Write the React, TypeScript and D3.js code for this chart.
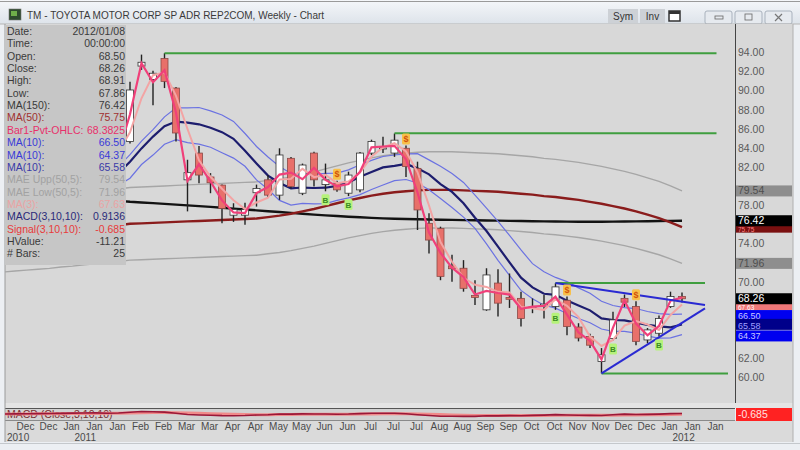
import React from "react";
import * as d3 from "d3";

// ---------- DATA ----------
const weeks = [
  "2010-11-21","2010-11-28","2010-12-05","2010-12-12","2010-12-19","2010-12-26",
  "2011-01-02","2011-01-09","2011-01-16","2011-01-23","2011-01-30",
  "2011-02-06","2011-02-13","2011-02-20","2011-02-27","2011-03-06","2011-03-13","2011-03-20","2011-03-27",
  "2011-04-03","2011-04-10","2011-04-17","2011-04-24","2011-05-01","2011-05-08","2011-05-15","2011-05-22","2011-05-29",
  "2011-06-05","2011-06-12","2011-06-19","2011-06-26","2011-07-03","2011-07-10","2011-07-17","2011-07-24","2011-07-31",
  "2011-08-07","2011-08-14","2011-08-21","2011-08-28","2011-09-04","2011-09-11","2011-09-18","2011-09-25",
  "2011-10-02","2011-10-09","2011-10-16","2011-10-23","2011-10-30","2011-11-06","2011-11-13","2011-11-20","2011-11-27",
  "2011-12-04","2011-12-11","2011-12-18","2011-12-25","2012-01-01","2012-01-08"
];
const openP = [76.9,77.5,78.2,79.0,79.5,80.2,80.7,82.5,83.0,84.0,82.3,
  84.7,92.6,91.2,93.4,90.3,80.7,83.5,81.0,80.15,77.0,77.0,79.35,80.7,79.1,82.95,79.3,83.5,80.2,80.35,79.3,79.65,
  83.5,84.0,83.5,84.0,81.9,76.15,75.6,71.7,71.45,68.6,67.1,69.9,68.4,68.3,67.3,67.5,67.45,68.1,65.3,64.3,61.7,64.1,
  68.3,67.45,63.95,64.65,67.45,68.50];
const highP = [78.0,78.6,79.5,80.1,80.6,81.0,82.9,83.8,84.9,84.5,85.0,
  90.97,93.8,92.1,93.95,90.4,82.8,84.25,81.4,80.2,78.25,78.3,80.2,81.2,84.0,83.1,82.4,83.65,82.4,80.6,81.55,83.6,
  84.9,85.2,85.55,84.3,82.6,77.2,75.8,72.85,72.3,70.2,71.45,71.35,70.9,69.0,68.3,68.65,69.9,68.5,65.7,64.6,63.1,66.9,
  68.7,68.0,65.2,66.5,69.0,68.91];
const lowP = [76.5,77.0,77.9,78.6,79.0,79.8,80.5,82.0,82.6,81.8,82.0,
  84.5,92.2,88.5,90.3,84.7,77.4,80.35,79.3,76.15,76.3,76.0,77.9,78.8,78.6,79.8,79.1,80.0,79.5,79.45,79.0,79.4,
  83.3,83.5,83.1,81.0,75.45,73.0,70.2,70.05,69.0,67.6,67.0,66.4,67.3,65.35,66.75,66.2,67.1,64.45,63.8,63.1,60.45,63.9,
  67.4,63.4,63.6,64.3,67.3,67.86];
const closeP = [77.5,78.2,79.0,79.5,80.2,80.7,82.5,83.0,84.0,82.3,84.6,
  90.1,93.0,91.85,91.0,85.6,81.45,81.2,80.4,77.7,77.6,77.6,79.8,79.1,83.3,80.0,82.25,80.7,80.7,79.65,81.2,83.5,
  84.7,84.05,84.85,82.1,77.55,74.4,70.6,71.4,69.35,68.4,70.75,67.8,68.2,66.2,67.4,67.7,69.5,65.35,64.15,63.4,62.4,66.05,
  67.9,63.8,65.0,66.2,68.5,68.26];
const ma150 = [79.4,79.3,79.2,79.1,79.0,78.92,78.84,78.76,78.68,78.6,78.5,
  78.4,78.33,78.26,78.19,78.11,78.03,77.95,77.87,77.78,77.69,77.6,77.51,77.42,77.33,77.24,77.15,77.06,76.98,76.91,
  76.84,76.78,76.72,76.67,76.63,76.6,76.57,76.55,76.53,76.51,76.49,76.47,76.45,76.43,76.41,76.39,76.37,76.35,76.34,
  76.33,76.32,76.32,76.32,76.33,76.34,76.35,76.37,76.39,76.41,76.42];
const ma50 = [74.8,74.9,75.0,75.1,75.2,75.35,75.45,75.6,75.7,75.85,75.95,
  76.1,76.15,76.2,76.25,76.3,76.35,76.4,76.45,76.5,76.55,76.6,76.65,76.8,76.95,77.15,77.4,77.65,77.95,78.25,
  78.55,78.8,79.05,79.25,79.4,79.5,79.6,79.65,79.65,79.65,79.6,79.55,79.5,79.45,79.35,79.25,79.15,79.0,78.9,
  78.75,78.6,78.4,78.2,77.95,77.7,77.4,77.05,76.7,76.25,75.75];

const sellDates = ["2011-06-12","2011-07-24","2011-10-30","2011-12-11"];
const buyDates = ["2011-06-05","2011-06-19","2011-10-23","2011-11-27","2011-12-25"];

const levelValues = [93.95, 85.57, 69.9, 60.45];
const levelFrom = ["2011-02-27","2011-07-17","2011-10-23","2011-11-20"];
const levelTo = ["2012-01-29","2012-01-29","2012-01-22","2012-02-05"];

const trendFrom = ["2011-10-23","2011-11-20"];
const trendFromVal = [69.9, 60.45];
const trendTo = ["2012-01-22","2012-01-22"];
const trendToVal = [67.6, 67.25];

const tickDates = ["2010-12-05","2010-12-19","2011-01-02","2011-01-16","2011-01-30","2011-02-13","2011-02-27",
  "2011-03-13","2011-03-27","2011-04-10","2011-04-24","2011-05-08","2011-05-22","2011-06-05","2011-06-19",
  "2011-07-03","2011-07-17","2011-07-31","2011-08-14","2011-08-28","2011-09-11","2011-09-25","2011-10-09",
  "2011-10-23","2011-11-06","2011-11-20","2011-12-04","2011-12-18","2012-01-01","2012-01-15","2012-01-29"];
const yearText = ["2010","2011","2012"];
const yearDates = ["2010-11-21","2011-01-02","2012-01-01"];
// price labels that remain visible beside the value boxes
const priceTicks = [94,92,90,88,86,84,82,78,74,70,62,60];

const infoLabels = ["Date:","Time:","Open:","Close:","High:","Low:","MA(150):","MA(50):","Bar1-Pvt-OHLC:",
  "MA(10):","MA(10):","MA(10):","MAE Upp(50,5):","MAE Low(50,5):","MA(3):","MACD(3,10,10):","Signal(3,10,10):","HValue:","# Bars:"];
const infoValues = ["2012/01/08","00:00:00","68.50","68.26","68.91","67.86","76.42","75.75","68.3825",
  "66.50","64.37","65.58","79.54","71.96","67.63","0.9136","-0.685","-11.21","25"];
const infoColors = ["#3a3a3a","#3a3a3a","#3a3a3a","#3a3a3a","#3a3a3a","#3a3a3a","#3a3a3a","#a03030","#e8306a",
  "#3a3ad8","#3a3ad8","#3a3aa8","#a2a2a2","#a2a2a2","#e9a3a3","#2a2a7a","#e83a3a","#3a3a3a","#3a3a3a"];

// value boxes on the price axis (drawn in this order; later ones cover earlier ones)
const boxValues = [79.54, 75.75, 76.42, 71.96, 67.63, 68.26, 66.50, 65.58, 64.37];
const boxFills = ["#8e8e8e","#7a1010","#000000","#8e8e8e","#f07878","#000000","#0000f0","#00008a","#0000f0"];
const boxTexts = ["#4e4e4e","#ff8080","#ffffff","#4e4e4e","#ffffff","#ffffff","#c8c8ff","#a0a0ff","#c8c8ff"];
const boxCovered = [false, true, false, false, true, false, false, false, false];

// ---------- helpers ----------
const sma = (arr: number[], n: number) =>
  arr.map((_, i) => (i < n - 1 ? null : (d3.mean(arr.slice(i - n + 1, i + 1)) as number)));
const ema = (arr: number[], n: number) => {
  const k = 2 / (n + 1);
  let prev = arr[0];
  return arr.map((v, i) => {
    prev = i === 0 ? v : v * k + prev * (1 - k);
    return prev;
  });
};

const FONT = "'Liberation Sans', Arial, sans-serif";

export default function App() {
  const parse = d3.timeParse("%Y-%m-%d");
  const P = (s: string) => parse(s) as Date;
  const dts = weeks.map(P);
  const x = d3.scaleTime().domain([P("2011-02-06"), P("2012-01-08")]).range([130, 682]);
  const y = d3.scaleLinear().domain([60, 94]).range([377.7, 52.7]);

  const pivot = openP.map((o, i) => (o + highP[i] + lowP[i] + closeP[i]) / 4);
  const ma3 = sma(closeP, 3);
  const ma10h = sma(highP, 10);
  const ma10c = sma(closeP, 10);
  const ma10l = sma(lowP, 10);
  const maeU = ma50.map((v) => v * 1.05);
  const maeL = ma50.map((v) => v * 0.95);

  const e3 = ema(closeP, 3);
  const e10 = ema(closeP, 10);
  const macd = e3.map((v, i) => v - e10[i]);
  const signal = ema(macd, 10);
  const ym = d3.scaleLinear().domain([-10, 10]).range([419, 409]);

  const lineGen = d3
    .line<[Date, number | null]>()
    .defined((d) => d[1] != null)
    .x((d) => x(d[0]))
    .y((d) => y(d[1] as number));
  const path = (vals: (number | null)[]) => lineGen(dts.map((d, i) => [d, vals[i]])) || "";
  const macdLine = d3
    .line<[Date, number]>()
    .x((d) => x(d[0]))
    .y((d) => ym(d[1]));

  const bw = 7;
  const idx = (s: string) => weeks.indexOf(s);
  const boxBase = [3.5, 5.3, 3.5, 3.5, 5.3, 3.5, 3.0, 4.3, 3.3];

  return (
    <svg width={800} height={450} style={{ position: "fixed", left: 0, top: 0, background: "#eceff3" }} fontFamily={FONT}>
      <defs>
        <linearGradient id="tb" x1="0" y1="0" x2="0" y2="1">
          <stop offset="0" stopColor="#f5f7fa" />
          <stop offset="1" stopColor="#dde3ea" />
        </linearGradient>
        <clipPath id="plot">
          <rect x={5} y={24} width={730} height={379} />
        </clipPath>
        <clipPath id="macdc">
          <rect x={5} y={408} width={730} height={12} />
        </clipPath>
      </defs>

      {/* window frame / title bar */}
      <rect x={0} y={0} width={800} height={450} fill="#eceff3" />
      <rect x={0} y={0} width={800} height={24} fill="url(#tb)" />
      <line x1={0} y1={1.5} x2={800} y2={1.5} stroke="#9a9a9a" />
      <rect x={9} y={9} width={12} height={11} fill="#2e4a2e" stroke="#777" strokeWidth={0.6} />
      <rect x={11} y={11} width={6} height={5} fill="#6fae4a" />
      <text x={27} y={19} fontSize={10} fill="#3a3a3a">TM - TOYOTA MOTOR CORP SP ADR REP2COM, Weekly - Chart</text>
      <rect x={608} y={9} width={30} height={14} fill="#cdd1d6" />
      <text x={623} y={20} fontSize={10} fill="#333" textAnchor="middle">Sym</text>
      <rect x={640} y={9} width={25} height={14} fill="#cdd1d6" />
      <text x={652.5} y={20} fontSize={10} fill="#333" textAnchor="middle">Inv</text>
      <rect x={669} y={11} width={11} height={10} fill="#fff" stroke="#333" strokeWidth={1.5} />
      <rect x={669} y={11} width={11} height={3} fill="#333" />
      {[705, 735, 765].map((bx, i) => (
        <g key={bx}>
          <rect x={bx} y={11} width={27} height={13} rx={2} fill="#e6eaef" stroke="#a9b2bd" />
          {i === 0 && <rect x={bx + 10} y={16} width={8} height={3} fill="none" stroke="#666" strokeWidth={0.8} />}
          {i === 1 && <rect x={bx + 10} y={14} width={7} height={6} fill="none" stroke="#666" strokeWidth={0.8} />}
          {i === 2 && (
            <path d={`M${bx + 10},${14} L${bx + 17},${21} M${bx + 17},${14} L${bx + 10},${21}`} stroke="#777" strokeWidth={1.2} />
          )}
        </g>
      ))}
      <line x1={0} y1={24} x2={800} y2={24} stroke="#b5b5b5" />

      {/* panels background */}
      <rect x={5} y={24} width={788} height={379} fill="#d8d8d8" />
      <rect x={5} y={403} width={788} height={5} fill="#e4e4e4" />
      <rect x={5} y={408} width={730} height={12} fill="#d2d2d2" />
      <line x1={5} y1={408.5} x2={735} y2={408.5} stroke="#555" />
      <rect x={5} y={420} width={788} height={22} fill="#dadada" />
      <line x1={5} y1={420.5} x2={735} y2={420.5} stroke="#8a8a8a" />
      <line x1={5} y1={24} x2={5} y2={442} stroke="#9a9a9a" />
      <line x1={793} y1={24} x2={793} y2={442} stroke="#b0b0b0" />

      {/* main plot */}
      <g clipPath="url(#plot)">
        <path d={path(maeU)} fill="none" stroke="#a6a6a6" strokeWidth={1.4} />
        <path d={path(maeL)} fill="none" stroke="#a6a6a6" strokeWidth={1.4} />
        <path d={path(ma150)} fill="none" stroke="#121212" strokeWidth={2.4} />
        <path d={path(ma50)} fill="none" stroke="#8a1c1c" strokeWidth={2.4} />
        <path d={path(ma10h)} fill="none" stroke="#6b72e2" strokeWidth={1.2} />
        <path d={path(ma10l)} fill="none" stroke="#6b72e2" strokeWidth={1.2} />
        <path d={path(ma10c)} fill="none" stroke="#1d1d6e" strokeWidth={2.2} />

        {dts.map((d, i) => {
          const cx = x(d);
          const up = closeP[i] >= openP[i];
          const top = y(Math.max(openP[i], closeP[i]));
          const bot = y(Math.min(openP[i], closeP[i]));
          return (
            <g key={i}>
              <line x1={cx} x2={cx} y1={y(highP[i])} y2={y(lowP[i])} stroke="#222" strokeWidth={1.4} />
              <rect
                x={cx - bw / 2}
                y={top}
                width={bw}
                height={Math.max(bot - top, 1.2)}
                fill={up ? "#ffffff" : "#e8706a"}
                stroke={up ? "#333" : "#8a4a46"}
                strokeWidth={0.8}
              />
            </g>
          );
        })}

        <path d={path(ma3)} fill="none" stroke="#f3a4a4" strokeWidth={2} />
        <path d={path(pivot)} fill="none" stroke="#f0407a" strokeWidth={2.2} />

        {levelValues.map((v, i) => (
          <line key={i} x1={x(P(levelFrom[i]))} x2={x(P(levelTo[i]))} y1={y(v)} y2={y(v)} stroke="#3f9e3f" strokeWidth={2} />
        ))}
        {trendFrom.map((s, i) => (
          <line key={i} x1={x(P(s))} y1={y(trendFromVal[i])} x2={x(P(trendTo[i]))} y2={y(trendToVal[i])} stroke="#2a2ad2" strokeWidth={2} />
        ))}

        {sellDates.map((s) => {
          const i = idx(s);
          const cx = x(dts[i]);
          const yb = y(highP[i]) - 1;
          return (
            <g key={s}>
              <rect x={cx - 4} y={yb - 11} width={8} height={11} rx={1.5} fill="#f7c04a" />
              <text x={cx} y={yb - 2.5} fontSize={9} fontWeight="bold" fill="#d2520a" textAnchor="middle">$</text>
            </g>
          );
        })}
        {buyDates.map((s) => {
          const i = idx(s);
          const cx = x(dts[i]);
          const yt = y(lowP[i]) + 3;
          return (
            <g key={s}>
              <rect x={cx - 4} y={yt} width={8} height={11} rx={1.5} fill="#b6f27a" />
              <text x={cx} y={yt + 8.5} fontSize={8} fontWeight="bold" fill="#3a8a24" textAnchor="middle">B</text>
            </g>
          );
        })}
      </g>

      {/* info box */}
      <rect x={5} y={25} width={121} height={240} fill="#c6c6c6" />
      {infoLabels.map((lab, i) => (
        <g key={i} fontSize={10.5} fill={infoColors[i]}>
          <text x={7} y={35 + i * 12.35}>{lab}</text>
          <text x={125} y={35 + i * 12.35} textAnchor="end">{infoValues[i]}</text>
        </g>
      ))}

      {/* right axis */}
      <line x1={735.5} y1={24} x2={735.5} y2={403} stroke="#444" />
      {priceTicks.map((t) => (
        <text key={t} x={738} y={y(t) + 3.5} fontSize={10.5} fill="#5a5a5a">{t.toFixed(2)}</text>
      ))}
      {boxValues.map((v, i) => (
        <g key={i}>
          <rect x={736} y={y(v) - 5.5} width={56} height={11} fill={boxFills[i]} />
          <text
            x={738}
            y={y(v) + boxBase[i]}
            fontSize={boxCovered[i] ? 6.5 : i >= 6 ? 9 : 10.5}
            fill={boxTexts[i]}
          >
            {v.toFixed(2)}
          </text>
        </g>
      ))}

      {/* MACD panel */}
      <text x={7} y={418} fontSize={10.5} fill="#7a3030">MACD (Close,3,10,10)</text>
      <g clipPath="url(#macdc)">
        <path d={macdLine(dts.map((d, i) => [d, signal[i]])) || ""} fill="none" stroke="#f08a8a" strokeWidth={3} />
        <path d={macdLine(dts.map((d, i) => [d, macd[i]])) || ""} fill="none" stroke="#9a1838" strokeWidth={1.6} />
      </g>
      <rect x={736} y={408} width={56} height={13} fill="#ff2222" />
      <text x={738} y={418} fontSize={10.5} fill="#ffe0e0">-0.685</text>

      {/* date axis */}
      {tickDates.map((s) => (
        <text key={s} x={x(P(s)) - 1} y={430} fontSize={10} fill="#4a4a4a" textAnchor="middle">
          {d3.timeFormat("%b")(P(s))}
        </text>
      ))}
      {yearText.map((t, i) => (
        <text key={t} x={Math.max(x(P(yearDates[i])) + 2, 7)} y={441} fontSize={10} fill="#4a4a4a">{t}</text>
      ))}
      <line x1={0} y1={443.5} x2={800} y2={443.5} stroke="#c4c8cc" />
    </svg>
  );
}
